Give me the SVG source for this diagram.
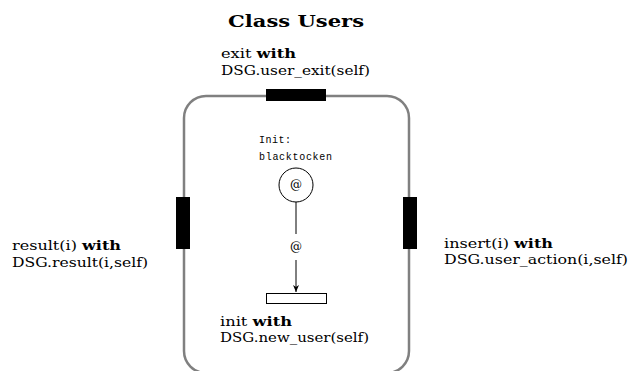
<svg xmlns="http://www.w3.org/2000/svg" width="633" height="371" viewBox="0 0 633 371">
<style>
.t{font-family:"DejaVu Serif","Liberation Serif",serif;font-size:12px;fill:#000}
.b{font-weight:bold}
.m{font-family:"Liberation Mono","DejaVu Sans Mono",monospace;font-size:10px;fill:#000}
.port{fill:#000}
.ln{stroke:#000;stroke-width:1;fill:none}
</style>
<defs>
<marker id="arr" markerWidth="8" markerHeight="8" refX="7" refY="4" orient="auto" markerUnits="userSpaceOnUse">
<path d="M0,1 L7,4 L0,7 L2,4 Z" fill="#000"/>
</marker>
</defs>
<rect width="633" height="371" fill="#fff"/>
<text x="296" y="27" text-anchor="middle" font-family="DejaVu Serif, Liberation Serif, serif" font-size="17" font-weight="bold" textLength="136" lengthAdjust="spacingAndGlyphs">Class Users</text>
<g id="class-box">
<rect x="184" y="96" width="225" height="277" rx="22" ry="22" fill="none" stroke="#808080" stroke-width="2.5"/>
</g>
<g id="port-exit">
<rect class="port" x="266" y="89" width="60" height="12"/>
<text class="t" x="221" y="58" textLength="75" lengthAdjust="spacingAndGlyphs">exit <tspan class="b">with</tspan></text>
<text class="t" x="221" y="75" textLength="149" lengthAdjust="spacingAndGlyphs">DSG.user_exit(self)</text>
</g>
<g id="port-result">
<rect class="port" x="176" y="197" width="14" height="52"/>
<text class="t" x="12" y="250" textLength="109" lengthAdjust="spacingAndGlyphs">result(i) <tspan class="b">with</tspan></text>
<text class="t" x="12" y="267" textLength="136" lengthAdjust="spacingAndGlyphs">DSG.result(i,self)</text>
</g>
<g id="port-insert">
<rect class="port" x="403" y="197" width="14" height="52"/>
<text class="t" x="444" y="248" textLength="109" lengthAdjust="spacingAndGlyphs">insert(i) <tspan class="b">with</tspan></text>
<text class="t" x="444" y="264" textLength="184" lengthAdjust="spacingAndGlyphs">DSG.user_action(i,self)</text>
</g>
<g id="place">
<text class="m" x="259" y="143" textLength="32" lengthAdjust="spacing">Init:</text>
<text class="m" x="259" y="160" textLength="73" lengthAdjust="spacing">blacktocken</text>
<circle cx="296" cy="185" r="17" fill="#fff" stroke="#000" stroke-width="1"/>
<text class="t" x="296" y="189" text-anchor="middle" font-size="11">@</text>
</g>
<g id="transition">
<rect x="266.5" y="293.5" width="60" height="10" fill="#fff" stroke="#000" stroke-width="1"/>
<text class="t" x="220" y="326" textLength="72" lengthAdjust="spacingAndGlyphs">init <tspan class="b">with</tspan></text>
<text class="t" x="220" y="342" textLength="149" lengthAdjust="spacingAndGlyphs">DSG.new_user(self)</text>
</g>
<g id="connectors">
<line class="ln" x1="296" y1="202" x2="296" y2="234"/>
<text class="t" x="296" y="251" text-anchor="middle" font-size="11">@</text>
<line class="ln" x1="296" y1="260" x2="296" y2="292" marker-end="url(#arr)"/>
</g>
</svg>
